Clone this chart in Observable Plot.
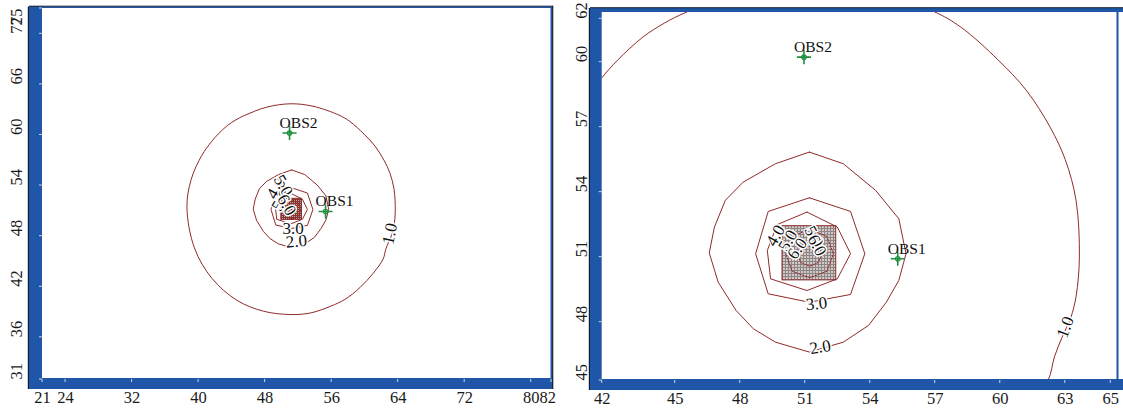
<!DOCTYPE html>
<html><head><meta charset="utf-8">
<script src="https://cdn.jsdelivr.net/npm/d3@7"></script>
<script src="https://cdn.jsdelivr.net/npm/@observablehq/plot@0.6"></script>
<style>
html,body{margin:0;padding:0;background:#fff;}
#wrap{position:relative;width:1123px;height:411px;overflow:hidden;background:#fff;}
#left{position:absolute;left:0;top:0;}
#right{position:absolute;left:560px;top:0;}
</style></head><body>
<svg width="0" height="0" style="position:absolute">
<defs>
<pattern id="hatchLight" width="3" height="3" patternUnits="userSpaceOnUse">
<rect width="3" height="3" fill="#cfc9c9"/>
<path d="M0 0.5H3M0.5 0V3" stroke="#8e8484" stroke-width="1"/>
</pattern>
<pattern id="hatchDark" width="2" height="2" patternUnits="userSpaceOnUse">
<rect width="2" height="2" fill="#8a3434"/>
<rect width="1" height="1" fill="#b9aaaa"/>
</pattern>
</defs></svg>
<div id="wrap"><div id="left"></div><div id="right"></div></div>
<script>
// ---------- data ----------
const leftXTicks = [21.23, 24, 32, 40, 48, 56, 64, 72, 80, 82.44];
const leftXLabels = ["21", "24", "32", "40", "48", "56", "64", "72", "80", "82"];
const leftYTicks = [31, 36, 42, 48, 54, 60, 66, 72, 75];
const leftYLabels = ["31", "36", "42", "48", "54", "60", "66", "72", "75"];

const rightXTicks = [41.63, 45, 48, 51, 54, 57, 60, 63, 65.1];
const rightXLabels = ["42", "45", "48", "51", "54", "57", "60", "63", "65"];
const rightYTicks = [45.31, 48, 51, 54, 57, 60, 62];
const rightYLabels = ["45", "48", "51", "54", "57", "60", "62"];

// contour lines (concentration levels), vertices in map units
const contour1 = [[51.1,63.7],[53.8,63.4],[56.9,62.35],[58.2,61.6],[59.9,60.1],[61.2,58.7],[62.3,57.0],[63.0,55.5],[63.5,53.6],[63.65,51.0],[63.5,49.2],[63.25,48.2],[62.85,47.3],[62.5,46.4],[62.2,45.3],[61.0,43.6],[59.4,41.9],[57.6,40.5],[55.9,39.7],[53.5,38.9],[51.1,38.7],[47.8,39.1],[44.6,40.4],[41.6,43.0],[39.5,46.6],[38.6,51.4],[39.1,54.7],[40.4,57.6],[41.55,59.2],[42.35,60.1],[43.5,61.15],[44.5,61.8],[45.5,62.3],[48.2,63.3]];
const contour2 = [[51.19,55.85],[52.76,55.31],[54.25,54.08],[55.32,52.77],[55.65,51.16],[55.32,49.93],[54.74,48.92],[53.92,47.85],[52.76,47.08],[51.19,46.62],[49.62,47.08],[48.6,47.7],[47.81,48.54],[46.98,49.85],[46.57,51.2],[46.81,52.39],[47.31,53.62],[48.13,54.46],[49.62,55.31],[51.19,55.85]];
const contour3 = [[51.19,53.74],[53.09,53.11],[53.75,51.16],[53.09,49.28],[51.19,48.92],[49.29,49.31],[48.71,51.16],[49.29,53.11],[51.19,53.74]];
const contour4 = [[51.08,53.08],[52.48,52.39],[53.09,51.16],[52.48,50.0],[51.08,49.46],[49.4,50.0],[49.25,51.31],[49.7,52.5],[51.08,53.08]];
const contour5 = [[51.2,52.3],[52.0,51.95],[52.3,51.15],[52.0,50.35],[51.2,50.05],[50.4,50.35],[50.1,51.15],[50.4,51.95],[51.2,52.3]];
const contour6 = [[51.2,51.72],[51.6,51.55],[51.77,51.15],[51.6,50.75],[51.2,50.58],[50.8,50.75],[50.63,51.15],[50.8,51.55],[51.2,51.72]];

// source area
const sourceX = [49.95, 52.43];
const sourceY = [49.93, 52.43];

// observation points
const obsNames = ["OBS1", "OBS2"];
const obsX = [55.27, 50.94];
const obsY = [50.93, 60.23];

// contour labels
const leftLabelText = ["1.0", "2.0", "3.0", "4.0", "5.0", "5.0", "6.0"];
const leftLabelX = [63.0, 51.77, 51.37, 49.33, 49.93, 50.2, 50.6];
const leftLabelY = [48.3, 47.39, 48.9, 53.68, 52.26, 54.0, 51.7];
const leftLabelAngle = [-78, -5, 0, -60, -60, 60, 60];

const rightLabelText = ["1.0", "2.0", "3.0", "4.0", "5.0", "6.0", "5.0", "6.0"];
const rightLabelX = [63.0, 51.69, 51.52, 49.63, 50.2, 50.63, 51.4, 51.55];
const rightLabelY = [47.77, 46.85, 48.85, 52.0, 51.77, 51.39, 51.95, 51.55];
const rightLabelAngle = [-70, -10, -6, -60, -60, -55, 62, 62];

// ---------- drawing ----------
const BLUE = "#1f56a7";
const DARK = "#101a30";
const TICKC = "#c9d5ea";
const LINE = "#8f2a2a";
const GREEN = "#1f8f3f";
const FONT = "'Liberation Serif','DejaVu Serif',serif";

function frameMark(cfg, xTicks, yTicks) {
  return (index, scales, values, dims) => {
    const L = dims.marginLeft, R = dims.width - dims.marginRight;
    const T = dims.marginTop, B = dims.height - dims.marginBottom;
    const g = d3.create("svg:g");
    const top = T - cfg.topBar, bot = B + cfg.bottomBar;
    g.append("rect").attr("x", L - cfg.leftBar).attr("y", top).attr("width", cfg.leftBar).attr("height", bot - top).attr("fill", BLUE);
    g.append("rect").attr("x", L - cfg.leftBar - 1.2).attr("y", top).attr("width", 1.2).attr("height", bot - top).attr("fill", DARK);
    g.append("rect").attr("x", L - cfg.leftBar).attr("y", B - 1).attr("width", cfg.rightEnd(R) - (L - cfg.leftBar)).attr("height", cfg.bottomBar + 1).attr("fill", BLUE);
    g.append("rect").attr("x", L - cfg.leftBar).attr("y", top).attr("width", cfg.rightEnd(R) - (L - cfg.leftBar)).attr("height", cfg.topBar).attr("fill", BLUE);
    g.append("rect").attr("x", L - cfg.leftBar).attr("y", top - 0.8).attr("width", cfg.rightEnd(R) - (L - cfg.leftBar)).attr("height", 1).attr("fill", DARK);
    g.append("rect").attr("x", R - 0.5).attr("y", top).attr("width", cfg.rightBar).attr("height", bot - top).attr("fill", BLUE);
    if (cfg.rightDark) g.append("rect").attr("x", R - 0.5 + cfg.rightBar).attr("y", top - 0.8).attr("width", 1.2).attr("height", bot - top + 0.8).attr("fill", DARK);
    for (const t of xTicks) {
      const x = scales.x(t);
      g.append("line").attr("x1", x).attr("x2", x).attr("y1", B).attr("y2", B + 3).attr("stroke", TICKC).attr("stroke-width", 1);
    }
    for (const t of yTicks) {
      const y = scales.y(t);
      g.append("line").attr("x1", L - 3).attr("x2", L).attr("y1", y).attr("y2", y).attr("stroke", TICKC).attr("stroke-width", 1);
    }
    return g.node();
  };
}

function panel(o) {
  const lineOpts = {x: d => d[0], y: d => d[1], stroke: LINE, strokeWidth: 1, clip: true};
  const nx = o.xTicks.length, ny = o.yTicks.length;
  const yMid = o.yTicks.map((d, i) => i).filter(i => !(o.yStartFirst && i === 0) && !(o.yEndLast && i === ny - 1));
  const xMid = o.xTicks.map((d, i) => i).filter(i => !(o.xEndLast && i === nx - 1));
  const tickText = {fontSize: 16.5, fill: "#1a1a1a", fontFamily: FONT};
  const marks = [
    Plot.rect([0], {x1: () => sourceX[0], x2: () => sourceX[1], y1: () => sourceY[0], y2: () => sourceY[1], fill: o.squareFill, stroke: LINE, strokeWidth: 1, clip: true}),
    Plot.line(contour1, {...lineOpts, curve: "catmull-rom-closed"}),
    Plot.line(contour2, lineOpts),
    Plot.line(contour3, lineOpts),
    Plot.line(contour4, lineOpts),
    Plot.line(contour5, {...lineOpts, strokeDasharray: "2,1.5"}),
    Plot.line(contour6, {...lineOpts, strokeDasharray: "2,1.5"}),
    Plot.text(o.labelText.map((d, i) => i), {
      x: i => o.labelX[i], y: i => o.labelY[i], text: i => o.labelText[i], rotate: i => o.labelAngle[i],
      fontSize: 17, fill: "#111", stroke: "white", strokeWidth: 3, paintOrder: "stroke", fontFamily: FONT
    }),
    Plot.dot(obsNames.map((d, i) => i), {x: i => obsX[i], y: i => obsY[i], symbol: "plus", r: 4.6, stroke: GREEN, strokeWidth: 1.6}),
    Plot.dot(obsNames.map((d, i) => i), {x: i => obsX[i], y: i => obsY[i], r: 2.2, stroke: GREEN, strokeWidth: 1.2, fill: "none"}),
    Plot.text(obsNames.map((d, i) => i), {x: i => obsX[i], y: i => obsY[i], text: i => obsNames[i], dx: 9, dy: -10, fontSize: 15.5, fill: "#111", fontFamily: FONT}),
    frameMark(o.frame, o.xTicks, o.yTicks),
    Plot.text(xMid, {x: i => o.xTicks[i], text: i => o.xLabels[i], frameAnchor: "bottom", dy: 18.5, lineAnchor: "middle", ...tickText}),
    Plot.text(yMid, {y: i => o.yTicks[i], text: i => o.yLabels[i], frameAnchor: "left", dx: o.yDx, rotate: -90, lineAnchor: "middle", ...tickText})
  ];
  if (o.xEndLast) marks.push(Plot.text([nx - 1], {x: i => o.xTicks[i], text: i => o.xLabels[i], frameAnchor: "bottom", dy: 18.5, dx: 4.5, lineAnchor: "middle", textAnchor: "end", ...tickText}));
  if (o.yStartFirst) marks.push(Plot.text([0], {y: i => o.yTicks[i], text: i => o.yLabels[i], frameAnchor: "left", dx: o.yDx, rotate: -90, lineAnchor: "middle", textAnchor: "start", ...tickText}));
  if (o.yEndLast) marks.push(Plot.text([ny - 1], {y: i => o.yTicks[i], text: i => o.yLabels[i], frameAnchor: "left", dx: o.yDx, rotate: -90, lineAnchor: "middle", textAnchor: "end", ...tickText}));
  return Plot.plot({
    width: o.width, height: 411,
    marginLeft: o.ml, marginRight: o.mr, marginTop: o.mt, marginBottom: o.mb,
    x: {domain: o.xDomain, axis: null},
    y: {domain: o.yDomain, axis: null},
    style: {fontFamily: FONT, background: "transparent", overflow: "visible"},
    marks
  });
}

const leftChart = panel({
  width: 560, ml: 42, mr: 9, mt: 8, mb: 32,
  xDomain: [21.23, 82.44], yDomain: [31, 75],
  xTicks: leftXTicks, xLabels: leftXLabels, yTicks: leftYTicks, yLabels: leftYLabels,
  yDx: -26, yStartFirst: true, yEndLast: true, xEndLast: true,
  labelText: leftLabelText, labelX: leftLabelX, labelY: leftLabelY, labelAngle: leftLabelAngle,
  squareFill: "url(#hatchDark)",
  frame: {leftBar: 13, topBar: 1.5, bottomBar: 10, rightBar: 1.6, rightDark: true, rightEnd: R => R + 1.6}
});
const rightChart = panel({
  width: 563, ml: 41.7, mr: 6, mt: 12, mb: 31,
  xDomain: [41.63, 65.41], yDomain: [45.31, 62.29],
  xTicks: rightXTicks, xLabels: rightXLabels, yTicks: rightYTicks, yLabels: rightYLabels,
  yDx: -20.7, yStartFirst: false, yEndLast: false, xEndLast: false,
  labelText: rightLabelText, labelX: rightLabelX, labelY: rightLabelY, labelAngle: rightLabelAngle,
  squareFill: "url(#hatchLight)",
  frame: {leftBar: 11.7, topBar: 4, bottomBar: 10, rightBar: 2, rightDark: false, rightEnd: R => R + 6}
});
document.getElementById("left").appendChild(leftChart);
document.getElementById("right").appendChild(rightChart);
</script>
</body></html>
